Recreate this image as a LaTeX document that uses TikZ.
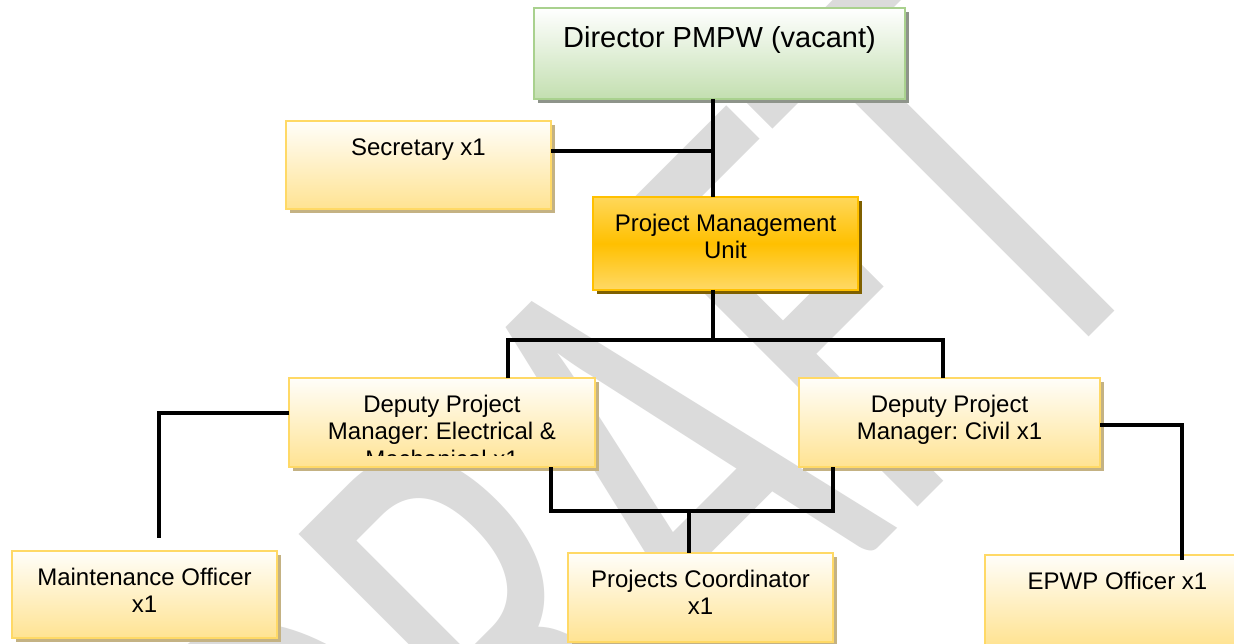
\documentclass[tikz,border=0pt]{standalone}
\usepackage{fontspec}
\setmainfont{Liberation Sans}
\newfontfamily\wmfont{Carlito}
\usetikzlibrary{shadows,calc}
\definecolor{ybord}{HTML}{FFD966}
\definecolor{ytop}{HTML}{FFFEFA}
\definecolor{ybot}{HTML}{FFE392}
\definecolor{ysh}{HTML}{C4B283}
\definecolor{gbord}{HTML}{A9D18E}
\definecolor{gbot}{HTML}{C3DFB0}
\definecolor{gsh}{HTML}{8E948A}
\definecolor{pbord}{HTML}{FFC000}
\definecolor{ptop}{HTML}{FFD75A}
\definecolor{pmid}{HTML}{FFC000}
\definecolor{pbot}{HTML}{FFD966}
\definecolor{psh}{HTML}{7F6000}
\definecolor{wmc}{HTML}{DBDBDB}
\frenchspacing
\begin{document}
\begin{tikzpicture}[x=1pt,y=-1pt,
  box/.style={rectangle, inner sep=0pt, outer sep=0pt, line width=2.2pt},
  ybox/.style={box, draw=ybord, top color=ytop, bottom color=ybot,
    drop shadow={shadow xshift=4pt, shadow yshift=-4pt, fill=ysh, opacity=1}},
  gbox/.style={box, draw=gbord, top color=white, bottom color=gbot,
    drop shadow={shadow xshift=4pt, shadow yshift=-4pt, fill=gsh, opacity=1}},
  pbox/.style={box, draw=pbord, top color=ptop, bottom color=pbot, middle color=pmid,
    drop shadow={shadow xshift=4pt, shadow yshift=-4pt, fill=psh, opacity=1}},
  lab/.style={anchor=north, inner sep=0pt, align=center,
    font=\fontsize{24}{27.5}\selectfont, yshift=-14.75pt},
  biglab/.style={anchor=north, inner sep=0pt, align=center,
    font=\fontsize{29}{33.35}\selectfont, yshift=-15.7pt},
  conn/.style={draw=black, line width=3.5pt},
  wm/.style={rotate=45, xscale=0.626, inner sep=0pt, text=wmc,
    font=\wmfont\fontsize{653}{653}\selectfont}
]
\useasboundingbox (0,0) rectangle (1234,644);
\clip (0,0) rectangle (1234,644);
\fill[white] (0,0) rectangle (1234,644);
% watermark
\node[wm] (wmark) at (636,493) {DRAFT};
% reference coordinates
\coordinate (tx) at (713,0);
\coordinate (sy) at (0,151);
\coordinate (by) at (0,340);
\coordinate (lx) at (508,0);
\coordinate (rx) at (943,0);
\coordinate (ely) at (0,413);
\coordinate (mx) at (159,0);
\coordinate (mend) at (159,538);
\coordinate (e2x) at (551,0);
\coordinate (c2x) at (833,0);
\coordinate (ly) at (0,511);
\coordinate (px) at (689,0);
\coordinate (cry) at (0,425);
\coordinate (ex) at (1182,0);
\coordinate (eend) at (1182,560);
% boxes
\node[gbox, minimum width=371pt, minimum height=91pt] (dir) at (719.5,53.5) {};
\node[ybox, minimum width=265pt, minimum height=88pt] (sec) at (418.5,165) {};
\node[pbox, minimum width=265pt, minimum height=93pt] (pmu) at (725.5,243.5) {};
\node[ybox, minimum width=306pt, minimum height=89pt] (ele) at (442,422.5) {};
\node[ybox, minimum width=301pt, minimum height=89pt] (civ) at (949.5,422.5) {};
\node[ybox, minimum width=265pt, minimum height=87pt] (mnt) at (144.5,594.5) {};
\node[ybox, minimum width=265pt, minimum height=89pt] (pco) at (700.5,597.5) {};
\node[ybox, minimum width=265pt, minimum height=90pt] (epw) at (1117.5,600) {};
% connectors
\draw[conn] (dir.south -| tx) -- (pmu.north -| tx);
\draw[conn] (sec.east |- sy) -- (tx |- sy);
\draw[conn] (pmu.south -| tx) -- (tx |- by);
\draw[conn] (ele.north -| lx) -- (lx |- by) -- (rx |- by) -- (civ.north -| rx);
\draw[conn] (ele.west |- ely) -- (mx |- ely) -- (mend);
\draw[conn] (ele.south -| e2x) -- (e2x |- ly) -- (c2x |- ly) -- (civ.south -| c2x);
\draw[conn] (px |- ly) -- (pco.north -| px);
\draw[conn] (civ.east |- cry) -- (ex |- cry) -- (eend);
% labels
\node[biglab] (dirL) at (dir.north) {\strut Director PMPW (vacant)};
\node[lab] (secL) at (sec.north) {\strut Secretary x1};
\node[lab] (pmuL) at (pmu.north) {\strut Project Management\\Unit};
\begin{scope}
\clip ($(ele.north west)+(2,2)$) rectangle ($(ele.south east)+(-2,-12)$);
\node[lab] (eleL) at (ele.north) {\strut Deputy Project\\Manager: Electrical \&\\Mechanical x1};
\end{scope}
\node[lab] (civL) at (civ.north) {\strut Deputy Project\\Manager: Civil x1};
\node[lab] (mntL) at (mnt.north) {\strut Maintenance Officer\\x1};
\node[lab] (pcoL) at (pco.north) {\strut Projects Coordinator\\x1};
\node[lab] (epwL) at (epw.north) {\strut EPWP Officer x1};
\end{tikzpicture}
\end{document}
